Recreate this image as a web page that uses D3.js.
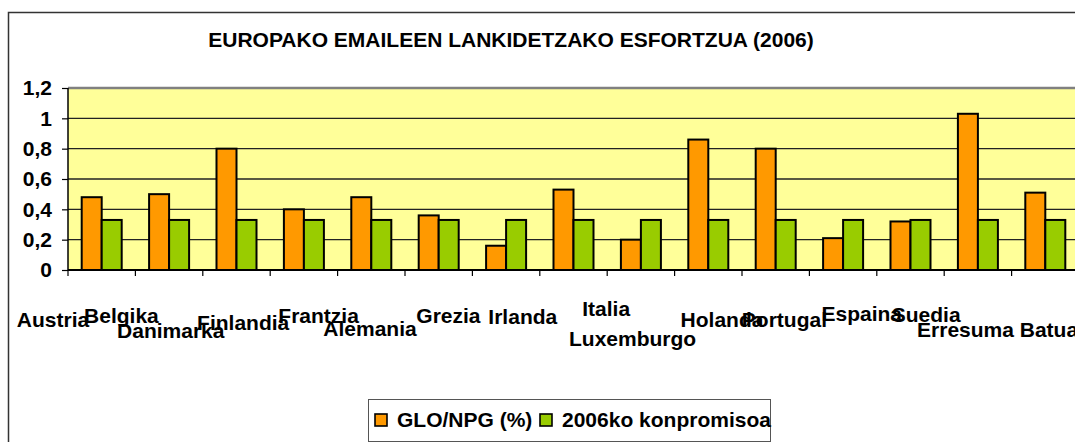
<!DOCTYPE html>
<html lang="eu">
<head>
<meta charset="UTF-8">
<title>Europako emaileen lankidetzako esfortzua (2006)</title>
<script src="https://d3js.org/d3.v7.min.js"></script>
<style>
    body {
        margin: 0;
        background: #fff;
    }
    svg {
        display: block;
        font-family: "Liberation Sans", Arial, sans-serif;
        font-weight: bold;
    }
</style>
</head>
<body>
<script>
    // data
    const countries = ["Austria", "Belgika", "Danimarka", "Finlandia", "Frantzia", "Alemania", "Grezia",
        "Irlanda", "Italia", "Luxemburgo", "Holanda", "Portugal", "Espaina", "Suedia", "Erresuma Batua"];
    const gloNpg = [0.48, 0.50, 0.80, 0.40, 0.48, 0.36, 0.16, 0.53, 0.20, 0.86, 0.80, 0.21, 0.32, 1.03, 0.51];
    const konpromisoa = [0.33, 0.33, 0.33, 0.33, 0.33, 0.33, 0.33, 0.33, 0.33, 0.33, 0.33, 0.33, 0.33, 0.33, 0.33];
    const seriesNames = ["GLO/NPG (%)", "2006ko konpromisoa"];
    const seriesColors = ["#ff9900", "#99cc00"];
    const yTicks = [0, 0.2, 0.4, 0.6, 0.8, 1, 1.2];
    const title = "EUROPAKO EMAILEEN LANKIDETZAKO ESFORTZUA (2006)";

    // the category labels are staggered like in the original sheet: [dx from band start, baseline]
    const labelPlacement = [[-15, 327], [-14, 323], [-32, 338], [-27, 330], [-19, 323], [-35, 336], [-24, 323],
        [-17, 324], [-1, 316], [-42, 346], [-20, 327], [-25, 327], [-15, 321], [-18, 322], [-14, 337]];

    const width = 1075, height = 442;
    const plot = { left: 68, top: 88, bottom: 270, right: 1079 };

    const svg = d3.select('body').append('svg')
        .attr('width', width)
        .attr('height', height);

    // chart frame
    svg.append('rect')
        .attr('x', 8.5).attr('y', 12.5)
        .attr('width', 1200).attr('height', 600)
        .attr('fill', '#fff')
        .attr('stroke', '#333')
        .attr('stroke-width', 1.5);

    svg.append('text')
        .attr('x', 511).attr('y', 47)
        .attr('text-anchor', 'middle')
        .attr('font-size', 21)
        .text(title);

    const x0 = d3.scaleBand()
        .domain(countries)
        .range([plot.left, plot.right])
        .padding(0);

    const x1 = d3.scaleBand()
        .domain(seriesNames)
        .range([0, x0.bandwidth()])
        .paddingInner(0)
        .paddingOuter(0.685);

    const y = d3.scaleLinear()
        .domain([0, 1.2])
        .range([plot.bottom, plot.top]);

    // plot area
    svg.append('rect')
        .attr('x', plot.left).attr('y', plot.top)
        .attr('width', plot.right - plot.left + 10)
        .attr('height', plot.bottom - plot.top)
        .attr('fill', '#ffff99');

    svg.append('g')
        .selectAll('line')
        .data(yTicks.filter(t => t > 0 && t < 1.2))
        .enter().append('line')
        .attr('x1', plot.left).attr('x2', width)
        .attr('y1', d => y(d)).attr('y2', d => y(d))
        .attr('stroke', '#222')
        .attr('stroke-width', 1.3);

    svg.append('line')
        .attr('x1', plot.left).attr('x2', width)
        .attr('y1', y(1.2)).attr('y2', y(1.2))
        .attr('stroke', '#808080')
        .attr('stroke-width', 2.5);

    // bars
    const rows = countries.map((c, i) => ({ country: c, values: [gloNpg[i], konpromisoa[i]] }));

    const groups = svg.append('g')
        .selectAll('g')
        .data(rows)
        .enter().append('g')
        .attr('transform', d => `translate(${x0(d.country)},0)`);

    groups.selectAll('rect')
        .data(d => d.values.map((v, k) => ({ key: seriesNames[k], value: v, color: seriesColors[k] })))
        .enter().append('rect')
        .attr('x', d => x1(d.key))
        .attr('y', d => y(d.value))
        .attr('width', x1.bandwidth())
        .attr('height', d => y(0) - y(d.value))
        .attr('fill', d => d.color)
        .attr('stroke', '#000')
        .attr('stroke-width', 2);

    // y axis
    const yAxis = svg.append('g')
        .attr('transform', `translate(${plot.left},0)`)
        .call(d3.axisLeft(y)
            .tickValues(yTicks)
            .tickSize(6)
            .tickPadding(10)
            .tickFormat(d => String(d).replace('.', ',')));
    yAxis.select('.domain').attr('stroke', '#000').attr('stroke-width', 1.5)
        .attr('d', `M0,${plot.top}V${plot.bottom}`);
    yAxis.selectAll('.tick line').attr('stroke', '#000').attr('stroke-width', 1.2);
    yAxis.selectAll('.tick text')
        .attr('font-size', 21)
        .attr('font-family', '"Liberation Sans", Arial, sans-serif')
        .attr('font-weight', 'bold')
        .attr('fill', '#000');

    // x axis line and band ticks
    svg.append('line')
        .attr('x1', plot.left).attr('x2', width)
        .attr('y1', plot.bottom).attr('y2', plot.bottom)
        .attr('stroke', '#000')
        .attr('stroke-width', 1.8);

    svg.append('g')
        .selectAll('line')
        .data(countries)
        .enter().append('line')
        .attr('x1', d => x0(d)).attr('x2', d => x0(d))
        .attr('y1', plot.bottom).attr('y2', plot.bottom + 6)
        .attr('stroke', '#000')
        .attr('stroke-width', 1.2);

    svg.append('g')
        .selectAll('text')
        .data(countries)
        .enter().append('text')
        .attr('x', (d, i) => x0(d) + labelPlacement[i][0])
        .attr('y', (d, i) => labelPlacement[i][1])
        .attr('text-anchor', 'middle')
        .attr('font-size', 21)
        .text(d => d);

    // legend
    const legend = svg.append('g');
    legend.append('rect')
        .attr('x', 368.5).attr('y', 399.5)
        .attr('width', 402).attr('height', 42)
        .attr('fill', '#fff')
        .attr('stroke', '#555')
        .attr('stroke-width', 1);

    const legendX = [375, 540];
    seriesNames.forEach((name, k) => {
        legend.append('rect')
            .attr('x', legendX[k]).attr('y', 414)
            .attr('width', 12).attr('height', 12)
            .attr('fill', seriesColors[k])
            .attr('stroke', '#000')
            .attr('stroke-width', 1.6);
        legend.append('text')
            .attr('x', legendX[k] + 22).attr('y', 427)
            .attr('font-size', 21)
            .text(name);
    });
</script>
</body>
</html>
